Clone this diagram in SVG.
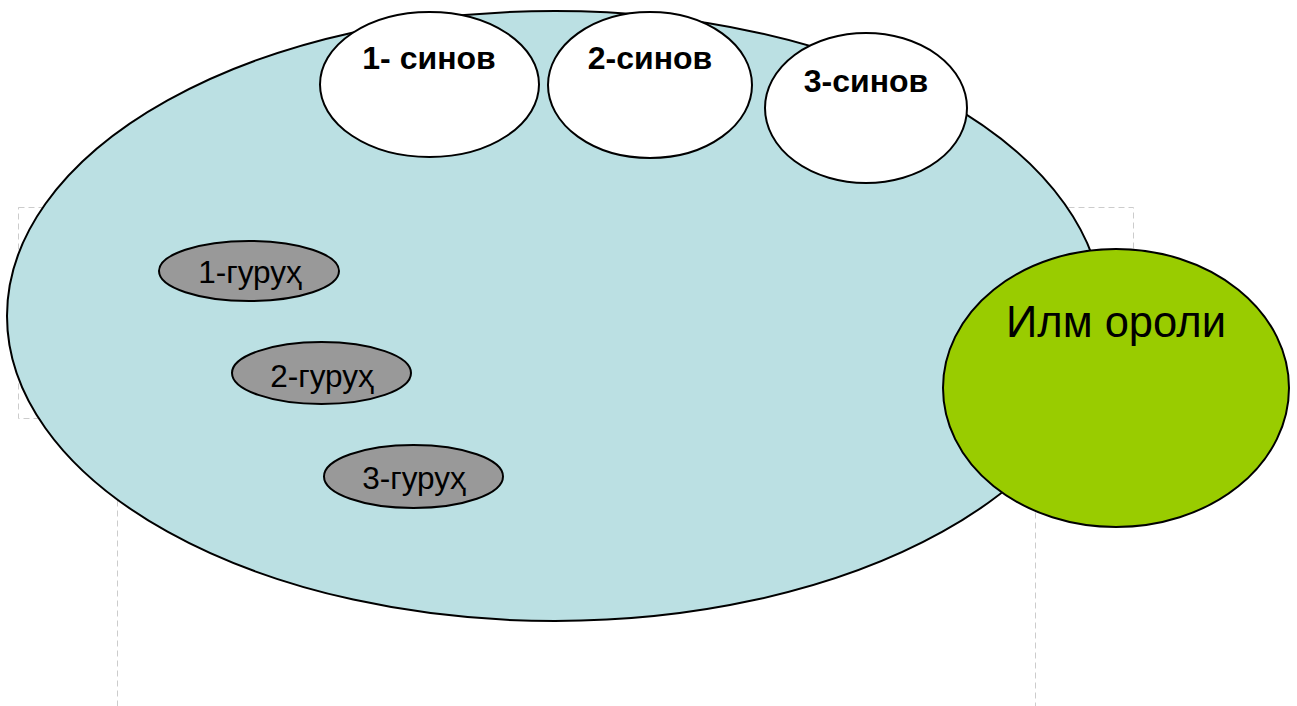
<svg xmlns="http://www.w3.org/2000/svg" width="1297" height="706" viewBox="0 0 1297 706">
<style>
.guide{fill:none;stroke:#cccccc;stroke-width:1;stroke-dasharray:6 4}
.ol{stroke:#000;stroke-width:2}
.big{fill:#bbe0e3}
.son{fill:#ffffff}
.grp{fill:#999999}
.sci{fill:#99cc00}
.tb{font-family:"Liberation Sans",Arial,sans-serif;font-weight:bold;font-size:32px;fill:#000;text-anchor:middle}
.tg{font-family:"Liberation Sans",Arial,sans-serif;font-size:31.5px;fill:#000;text-anchor:middle}
.ts{font-family:"Liberation Sans",Arial,sans-serif;font-size:43.5px;fill:#000;text-anchor:middle}
</style>
<rect width="1297" height="706" fill="#ffffff"/>
<g id="guides">
<rect class="guide" x="18.5" y="207.5" width="1115" height="211"/>
<rect class="guide" x="117.5" y="440.5" width="918" height="300"/>
</g>
<g id="class">
<ellipse class="big ol" cx="555" cy="316" rx="548" ry="305"/>
</g>
<g id="son1">
<ellipse class="son ol" cx="429.5" cy="84.5" rx="109.5" ry="72.5"/>
<text class="tb" x="429" y="69">1- синов</text>
</g>
<g id="son2">
<ellipse class="son ol" cx="650" cy="85" rx="102" ry="73"/>
<text class="tb" x="650" y="69">2-синов</text>
</g>
<g id="son3">
<ellipse class="son ol" cx="866" cy="108" rx="101" ry="75"/>
<text class="tb" x="866" y="92">3-синов</text>
</g>
<g id="group1">
<ellipse class="grp ol" cx="249" cy="271" rx="90" ry="30"/>
<text class="tg" x="250" y="283">1-гуруҳ</text>
</g>
<g id="group2">
<ellipse class="grp ol" cx="321.5" cy="373" rx="89.5" ry="31"/>
<text class="tg" x="322" y="387">2-гуруҳ</text>
</g>
<g id="group3">
<ellipse class="grp ol" cx="413.5" cy="476.5" rx="89.5" ry="31.5"/>
<text class="tg" x="414" y="489">3-гуруҳ</text>
</g>
<g id="science">
<ellipse class="sci ol" cx="1116" cy="388" rx="173" ry="139"/>
<text class="ts" x="1116" y="337">Илм ороли</text>
</g>
<g id="connectors"/>
</svg>
